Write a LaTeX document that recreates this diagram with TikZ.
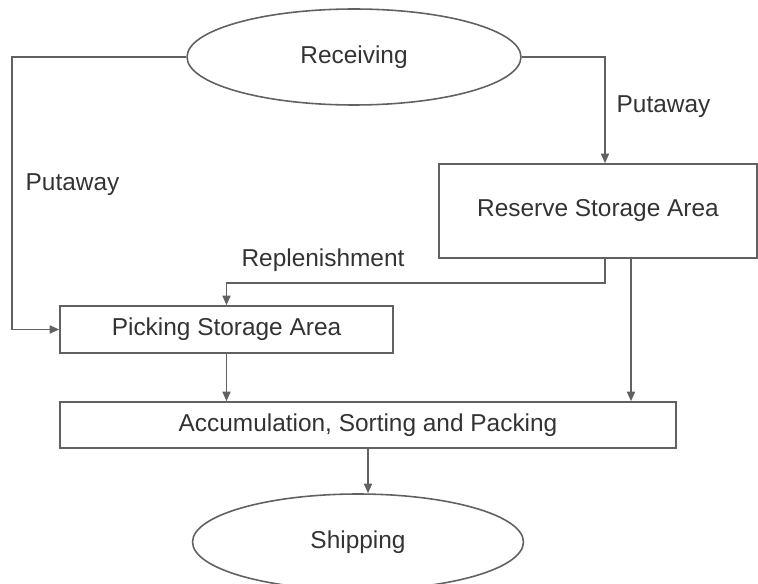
\documentclass[tikz,border=0pt]{standalone}
\usepackage{fontspec}
\setmainfont{Liberation Sans}
\usetikzlibrary{arrows.meta,shapes.geometric}

\begin{document}
\begin{tikzpicture}[x=0.02cm, y=-0.02cm, line width=0.9pt, color=black!62,
  every node/.append style={text=black!80, font=\fontsize{13.9}{16}\selectfont},
  box/.style={draw, rectangle, inner sep=0pt},
  oval/.style={draw, ellipse, inner sep=0pt},
  >={Triangle[length=1.9mm, width=1.6mm]}]
  \clip (0,0) rectangle (758,584);
  \node[oval, minimum width=6.68cm, minimum height=1.92cm] (recv) at (354,57) {Receiving};
  \node[box, minimum width=6.36cm, minimum height=1.88cm] (reserve) at (598,211) {Reserve Storage Area};
  \node[box, minimum width=6.66cm, minimum height=0.94cm] (picking) at (226.5,329.5) {Picking Storage Area};
  \node[box, minimum width=12.32cm, minimum height=0.92cm] (accum) at (368,425) {Accumulation, Sorting and Packing};
  \node[oval, minimum width=6.62cm, minimum height=1.92cm] (ship) at (358,542) {Shipping};

  \node[anchor=west] (putright) at (610,107) {Putaway};
  \node[anchor=west] (putleft) at (19,185) {Putaway};
  \node (repl) at (323,260) {Replenishment};

  \draw[->] (recv.west) -- ++(-174,0) |- (picking.west);
  \draw[->] (recv.east) -| ([xshift=0.14cm]reserve.north);
  \draw[->] ([xshift=0.14cm]reserve.south) -- ++(0,24) -| (picking.north);
  \draw[->] ([xshift=0.66cm]reserve.south) -- ([xshift=0.66cm]reserve.south |- accum.north);
  \draw[->] (picking.south) -- (picking.south |- accum.north);
  \draw[->] (accum.south) -- (accum.south |- ship.north);
\end{tikzpicture}
\end{document}
